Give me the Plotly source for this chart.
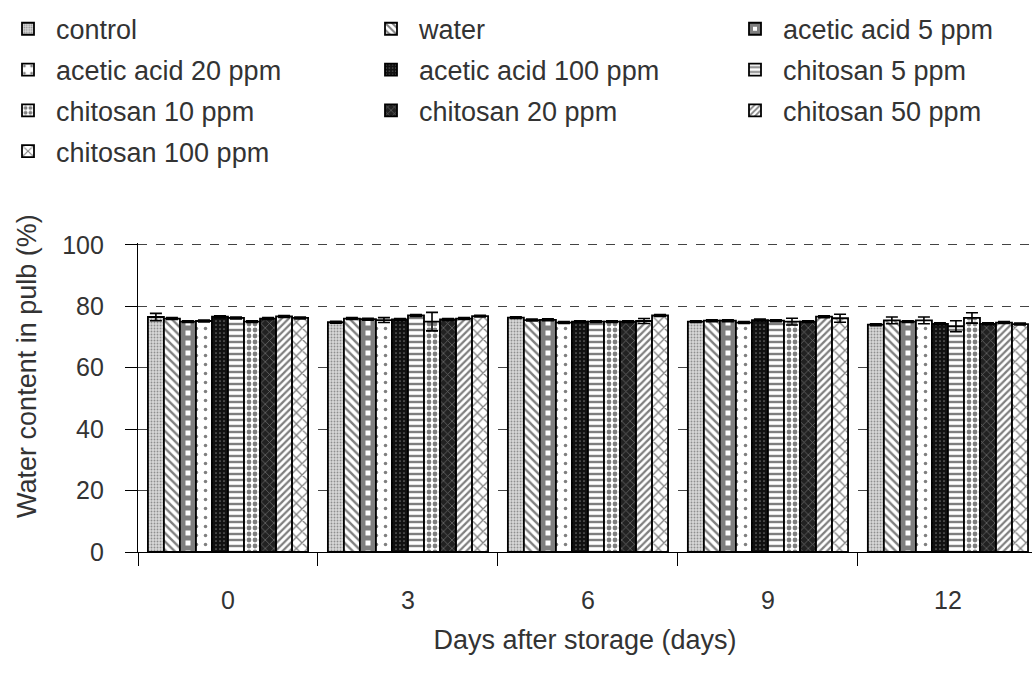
import plotly.graph_objects as go

days = ["0", "3", "6", "9", "12"]
treatments = ["control", "water", "acetic acid 5 ppm", "acetic acid 20 ppm",
              "acetic acid 100 ppm", "chitosan 5 ppm", "chitosan 10 ppm",
              "chitosan 20 ppm", "chitosan 50 ppm", "chitosan 100 ppm"]

control = [76.5, 74.8, 76.3, 75.0, 74.0]
water = [76.0, 76.0, 75.5, 75.3, 75.4]
acetic5 = [75.0, 75.8, 75.6, 75.3, 75.0]
acetic20 = [75.2, 75.5, 74.7, 74.7, 75.4]
acetic100 = [76.6, 75.7, 75.0, 75.5, 74.3]
chitosan5 = [76.2, 77.0, 75.0, 75.3, 73.5]
chitosan10 = [75.0, 75.0, 75.0, 75.0, 76.2]
chitosan20 = [76.0, 75.7, 75.0, 75.0, 74.3]
chitosan50 = [76.7, 76.0, 75.2, 76.6, 74.7]
chitosan100 = [76.2, 76.8, 77.0, 76.1, 74.2]

err_control = [1.2, 0.3, 0.3, 0.3, 0.3]
err_water = [0.3, 0.3, 0.3, 0.3, 1.1]
err_acetic5 = [0.3, 0.3, 0.3, 0.3, 0.3]
err_acetic20 = [0.3, 0.8, 0.3, 0.3, 1.1]
err_acetic100 = [0.3, 0.3, 0.3, 0.3, 0.3]
err_chitosan5 = [0.3, 0.3, 0.3, 0.3, 1.8]
err_chitosan10 = [0.3, 3.0, 0.3, 1.1, 1.7]
err_chitosan20 = [0.3, 0.3, 0.3, 0.3, 0.3]
err_chitosan50 = [0.3, 0.3, 0.8, 0.3, 0.3]
err_chitosan100 = [0.3, 0.3, 0.3, 1.3, 0.3]

y_ticks = [0, 20, 40, 60, 80, 100]

values = [control, water, acetic5, acetic20, acetic100,
          chitosan5, chitosan10, chitosan20, chitosan50, chitosan100]
errors = [err_control, err_water, err_acetic5, err_acetic20, err_acetic100,
          err_chitosan5, err_chitosan10, err_chitosan20, err_chitosan50, err_chitosan100]

patterns = [
    dict(shape=".", bgcolor="#d8d8d8", fgcolor="#444444", size=3, solidity=0.3),
    dict(shape="\\", bgcolor="white", fgcolor="black", size=6, solidity=0.4),
    dict(shape="+", bgcolor="white", fgcolor="black", size=10, solidity=0.75),
    dict(shape=".", bgcolor="white", fgcolor="black", size=9, solidity=0.12),
    dict(shape=".", bgcolor="#111111", fgcolor="#cccccc", size=4, solidity=0.15),
    dict(shape="-", bgcolor="white", fgcolor="black", size=6, solidity=0.4),
    dict(shape=".", bgcolor="white", fgcolor="black", size=6, solidity=0.5),
    dict(shape="x", bgcolor="#222222", fgcolor="#aaaaaa", size=6, solidity=0.25),
    dict(shape="/", bgcolor="white", fgcolor="black", size=5, solidity=0.45),
    dict(shape="x", bgcolor="white", fgcolor="black", size=8, solidity=0.3),
]
legend_ids = ["legend", "legend2", "legend3", "legend", "legend2",
              "legend3", "legend", "legend2", "legend3", "legend"]

FONT = "Arial, 'Liberation Sans', sans-serif"
TXT = "#333333"

fig = go.Figure()
for i, name in enumerate(treatments):
    fig.add_trace(go.Bar(
        x=days, y=values[i], name=name,
        legend=legend_ids[i], legendgroup=name,
        marker=dict(color=patterns[i]["bgcolor"], pattern=patterns[i],
                    line=dict(color="black", width=1.8)),
        error_y=dict(type="data", array=errors[i], visible=True,
                     color="black", thickness=1.6, width=6),
    ))

W, H = 1032, 684
y0_px, y100_px = 552, 245
ymax = 100.6
px_per = (y0_px - y100_px) / 100.0
ml, mr = 138, 0
mb = H - y0_px
mt = y0_px - ymax * px_per
pw = W - ml - mr
ph = H - mt - mb


def lx(px):
    return (px - ml) / pw


def ly(py):
    return (H - mb - py) / ph


leg_common = dict(font=dict(family=FONT, size=27, color=TXT), bgcolor="rgba(0,0,0,0)",
                  xanchor="left", yanchor="top", orientation="v",
                  itemwidth=46, tracegroupgap=2.7, itemclick=False)

fig.update_layout(
    width=W, height=H,
    margin=dict(l=ml, r=mr, t=mt, b=mb, pad=0),
    paper_bgcolor="white", plot_bgcolor="white",
    barmode="group", bargap=0.11, bargroupgap=0,
    font=dict(family=FONT, size=25, color=TXT),
    legend=dict(x=lx(0), y=ly(5), **leg_common),
    legend2=dict(x=lx(363), y=ly(5), **leg_common),
    legend3=dict(x=lx(727), y=ly(5), **leg_common),
    xaxis=dict(
        type="category", range=[-0.5, 4.467], tickson="boundaries",
        ticks="outside", ticklen=13, tickwidth=1.2, tickcolor="black",
        showline=True, linecolor="black", linewidth=1.2,
        showgrid=False, ticklabelstandoff=26,
        tickfont=dict(family=FONT, size=25, color=TXT),
        title=dict(text="Days after storage (days)", standoff=17,
                   font=dict(family=FONT, size=27, color=TXT)),
    ),
    yaxis=dict(
        range=[0, ymax], tickvals=y_ticks,
        ticks="outside", ticklen=12, tickwidth=1.2, tickcolor="black",
        showline=True, linecolor="black", linewidth=1.2,
        showgrid=True, gridcolor="#444444", gridwidth=1, griddash="dash",
        zeroline=False, ticklabelstandoff=16,
        tickfont=dict(family=FONT, size=25, color=TXT),
    ),
    annotations=[dict(
        text="Water content in pulb (%)", textangle=-90,
        xref="paper", yref="paper", x=lx(27), y=ly(366),
        xanchor="center", yanchor="middle", showarrow=False,
        font=dict(family=FONT, size=27, color=TXT),
    )],
)

fig.write_html("out.html", config={"displayModeBar": False},
               post_script="document.body.style.margin='0';")
